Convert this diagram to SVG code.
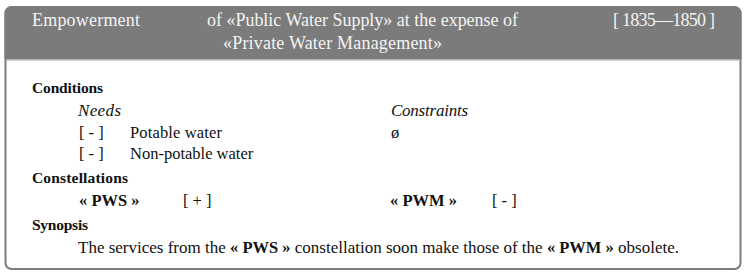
<svg xmlns="http://www.w3.org/2000/svg" width="747" height="277" viewBox="0 0 747 277">
<style>
.hd{font-size:18px;fill:#f4f4f4}
.sec{font-size:15.5px;font-weight:bold;fill:#111}
.tx{font-size:16.5px;fill:#111}
.it{font-size:17px;font-style:italic;fill:#111}
.b{font-weight:bold;font-size:16.5px}
</style>
<g id="card">
<rect x="5.5" y="7" width="735" height="262" rx="6" ry="6" fill="#ffffff" stroke="#7c7c7c" stroke-width="2"/>
<path d="M4.5,59.5 V13 A6.5,6.5 0 0 1 11,6.5 H735 A6.5,6.5 0 0 1 741.5,13 V59.5 Z" fill="#7b7b7b"/>
<line x1="5.5" y1="60" x2="740.5" y2="60" stroke="#a9a9a9" stroke-width="1.2"/>
</g>
<g id="header">
<text class="hd" font-family="Liberation Serif" x="32" y="26" textLength="108">Empowerment</text>
<text class="hd" font-family="Liberation Serif" x="207" y="26" textLength="311">of «Public Water Supply» at the expense of</text>
<text class="hd" font-family="Liberation Serif" x="223" y="49" textLength="219">«Private Water Management»</text>
<text class="hd" font-family="Liberation Serif" x="613" y="26" textLength="102">[ 1835—1850 ]</text>
</g>
<g id="conditions">
<text class="sec" font-family="Liberation Serif" x="32" y="93" textLength="71">Conditions</text>
<text class="it" font-family="Liberation Serif" x="78" y="116" textLength="43">Needs</text>
<text class="tx" font-family="Liberation Serif" x="79" y="138">[ - ]</text>
<text class="tx" font-family="Liberation Serif" x="130" y="138" textLength="92">Potable water</text>
<text class="tx" font-family="Liberation Serif" x="79" y="159">[ - ]</text>
<text class="tx" font-family="Liberation Serif" x="130" y="159">Non-potable water</text>
<text class="it" font-family="Liberation Serif" x="391" y="116" textLength="77">Constraints</text>
<text class="tx" font-family="Liberation Serif" x="391" y="138">ø</text>
</g>
<g id="constellations">
<text class="sec" font-family="Liberation Serif" x="32" y="183" textLength="96">Constellations</text>
<text class="tx b" font-family="Liberation Serif" x="79" y="206">« PWS »</text>
<text class="tx" font-family="Liberation Serif" x="183" y="206">[ + ]</text>
<text class="tx b" font-family="Liberation Serif" x="390" y="206">« PWM »</text>
<text class="tx" font-family="Liberation Serif" x="492" y="206">[ - ]</text>
</g>
<g id="synopsis">
<text class="sec" font-family="Liberation Serif" x="32" y="230" textLength="56">Synopsis</text>
<text class="tx" font-family="Liberation Serif" x="78" y="253" font-size="17" style="font-size:17px">The services from the <tspan class="b">« PWS »</tspan> constellation soon make those of the <tspan class="b">« PWM »</tspan> obsolete.</text>
</g>
</svg>
